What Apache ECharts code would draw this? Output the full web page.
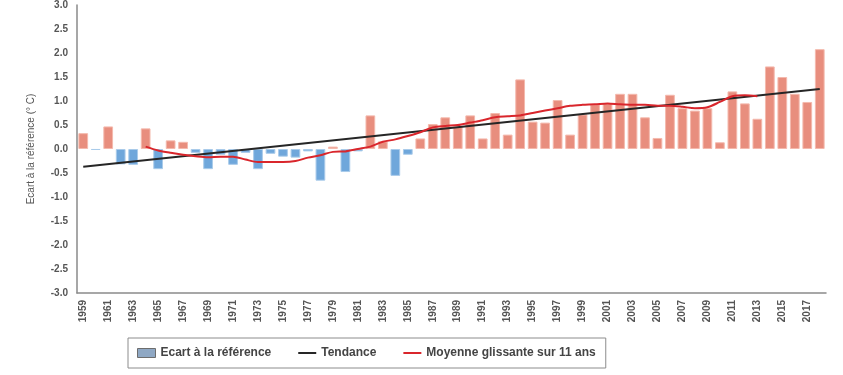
<!DOCTYPE html>
<html>
<head>
<meta charset="utf-8">
<script src="https://cdn.jsdelivr.net/npm/echarts@6/dist/echarts.min.js"></script>
<style>
  html, body { margin: 0; padding: 0; background: #ffffff; }
  #chart { width: 843px; height: 375px; }
</style>
</head>
<body>
<div id="chart"></div>
<script>
// Years 1959–2018
const years = [
  '1959','1960','1961','1962','1963','1964','1965','1966','1967','1968',
  '1969','1970','1971','1972','1973','1974','1975','1976','1977','1978',
  '1979','1980','1981','1982','1983','1984','1985','1986','1987','1988',
  '1989','1990','1991','1992','1993','1994','1995','1996','1997','1998',
  '1999','2000','2001','2002','2003','2004','2005','2006','2007','2008',
  '2009','2010','2011','2012','2013','2014','2015','2016','2017','2018'
];

// Annual anomaly against the reference period (°C)
const anomaly = [
   0.33, -0.02,  0.47, -0.32, -0.33,  0.43, -0.42,  0.18,  0.15, -0.08,
  -0.42, -0.12, -0.33, -0.08, -0.42, -0.10, -0.16, -0.18, -0.05, -0.66,
   0.05, -0.48, -0.05,  0.70,  0.16, -0.56, -0.12,  0.22,  0.52,  0.66,
   0.47,  0.70,  0.22,  0.75,  0.30,  1.45,  0.57,  0.55,  1.02,  0.30,
   0.72,  0.93,  0.95,  1.15,  1.15,  0.66,  0.23,  1.13,  0.85,  0.80,
   0.85,  0.14,  1.20,  0.95,  0.63,  1.72,  1.50,  1.15,  0.98,  2.08
];

// 11-year running mean, centred (1964–2013)
const runningMean = [
  null, null, null, null, null,  0.05, -0.03, -0.08, -0.12, -0.15,
  -0.17, -0.16, -0.16, -0.22, -0.27, -0.27, -0.27, -0.25, -0.18, -0.13,
  -0.06, -0.05,  0.00,  0.05,  0.15,  0.20,  0.27,  0.35,  0.45,  0.48,
   0.50,  0.55,  0.60,  0.66,  0.68,  0.70,  0.75,  0.80,  0.85,  0.90,
   0.92,  0.93,  0.95,  0.93,  0.92,  0.92,  0.90,  0.90,  0.88,  0.85,
   0.87,  0.98,  1.10,  1.12,  1.10,  null,  null,  null,  null,  null
];

// Linear trend end points
const trendYears = ['1959', '2018'];
const trendValues = [-0.37, 1.25];

// Y axis range and step
const yMin = -3, yMax = 3, yStep = 0.5;

const POS_COLOR = '#E88E7E';
const NEG_COLOR = '#6FA7DB';
const FONT = '"Liberation Sans", Arial, sans-serif';
// thin horizontal bar used as the legend symbol of the two lines
const LINE_ICON = 'path://M0 0 H40 V4.5 H0 Z';

const chart = echarts.init(document.getElementById('chart'), null, { renderer: 'canvas' });

chart.setOption({
  animation: false,
  backgroundColor: '#ffffff',
  textStyle: { fontFamily: FONT },
  grid: { left: 77, right: 17, top: 5, bottom: 82, containLabel: false },
  legend: {
    left: 128,
    top: 338,
    padding: [9, 10, 9, 9],
    itemGap: 27,
    itemWidth: 18,
    itemHeight: 9,
    symbolKeepAspect: true,
    borderColor: '#8c8c8c',
    borderWidth: 1,
    textStyle: { fontFamily: FONT, fontSize: 12, fontWeight: 'bold', color: '#444' },
    data: [
      { name: 'Ecart à la référence', icon: 'rect', itemStyle: { color: '#8FA8C4', borderColor: '#6d6d6d', borderWidth: 1 } },
      { name: 'Tendance', icon: LINE_ICON, itemStyle: { color: '#262626' } },
      { name: 'Moyenne glissante sur 11 ans', icon: LINE_ICON, itemStyle: { color: '#D9262C' } }
    ]
  },
  xAxis: {
    type: 'category',
    data: years,
    boundaryGap: true,
    axisLine: { onZero: false, lineStyle: { color: '#8a8a8a', width: 1.5 } },
    axisTick: { show: false },
    axisLabel: {
      interval: 1,
      rotate: 90,
      fontSize: 10,
      fontWeight: 'bold',
      color: '#555',
      margin: 7
    },
    splitLine: { show: false }
  },
  yAxis: {
    type: 'value',
    min: yMin,
    max: yMax,
    interval: yStep,
    name: 'Ecart à la référence (° C)',
    nameLocation: 'middle',
    nameGap: 41,
    nameTextStyle: { fontSize: 10, color: '#555', fontFamily: FONT },
    axisLine: { show: true, lineStyle: { color: '#8a8a8a', width: 1.5 } },
    axisTick: { show: false },
    axisLabel: {
      fontSize: 10,
      fontWeight: 'bold',
      color: '#555',
      margin: 9,
      formatter: v => v.toFixed(1)
    },
    splitLine: { show: false }
  },
  series: [
    {
      name: 'Ecart à la référence',
      type: 'bar',
      barCategoryGap: '22%',
      itemStyle: { color: '#8FA8C4' },
      data: anomaly.map(v => ({
        value: v,
        itemStyle: {
          color: v >= 0 ? POS_COLOR : NEG_COLOR,
          borderColor: v >= 0 ? '#F4B9AD' : '#A9CBEA',
          borderWidth: 1
        }
      })),
      z: 2
    },
    {
      name: 'Tendance',
      type: 'line',
      symbol: 'none',
      connectNulls: true,
      lineStyle: { color: '#262626', width: 2 },
      itemStyle: { color: '#262626' },
      data: trendYears.map((y, i) => [y, trendValues[i]]),
      z: 4
    },
    {
      name: 'Moyenne glissante sur 11 ans',
      type: 'line',
      symbol: 'none',
      smooth: 0.3,
      lineStyle: { color: '#D9262C', width: 2 },
      itemStyle: { color: '#D9262C' },
      data: runningMean,
      z: 5
    }
  ]
});
</script>
</body>
</html>
